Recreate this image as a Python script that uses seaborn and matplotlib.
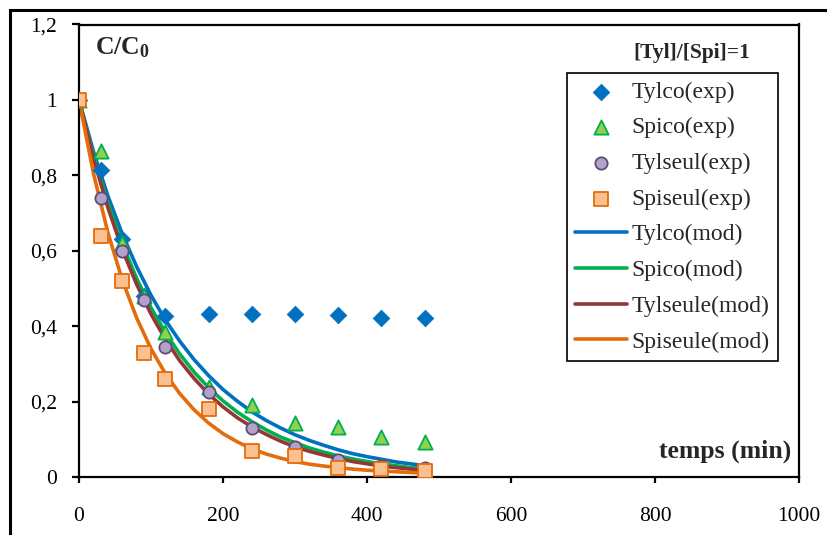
import matplotlib
matplotlib.use("Agg")
import matplotlib.pyplot as plt
from matplotlib.patches import Rectangle
import seaborn as sns
import pandas as pd

# Measured concentrations (C/C0) at sampling times
t_exp = [0, 30, 60, 90, 120, 180, 240, 300, 360, 420, 480]
tylco_exp = [1.0, 0.813, 0.63, 0.48, 0.426, 0.432, 0.432, 0.432, 0.429, 0.421, 0.422]
spico_exp = [1.0, 0.865, 0.62, 0.48, 0.385, 0.24, 0.19, 0.143, 0.132, 0.105, 0.092]
tylseul_exp = [1.0, 0.74, 0.60, 0.47, 0.345, 0.225, 0.13, 0.08, 0.045, 0.03, 0.025]
spiseul_exp = [1.0, 0.64, 0.52, 0.33, 0.26, 0.18, 0.07, 0.055, 0.025, 0.02, 0.015]

# Model curves (C/C0)
t_mod = [0, 20, 40, 60, 80, 100, 120, 140, 160, 180, 200, 220, 240,
         260, 280, 300, 320, 340, 360, 380, 400, 420, 440, 460, 480]
tylco_mod = [1.0, 0.864, 0.746, 0.645, 0.558, 0.482, 0.416, 0.360, 0.311, 0.269,
             0.232, 0.201, 0.173, 0.150, 0.130, 0.112, 0.097, 0.084, 0.072, 0.062,
             0.054, 0.047, 0.040, 0.035, 0.030]
spico_mod = [1.0, 0.852, 0.726, 0.619, 0.527, 0.449, 0.383, 0.326, 0.278, 0.237,
             0.202, 0.172, 0.147, 0.125, 0.106, 0.091, 0.077, 0.066, 0.056, 0.048,
             0.041, 0.035, 0.030, 0.025, 0.022]
tylseule_mod = [1.0, 0.845, 0.715, 0.604, 0.511, 0.432, 0.365, 0.308, 0.261, 0.220,
                0.186, 0.157, 0.133, 0.113, 0.095, 0.080, 0.068, 0.058, 0.049, 0.041,
                0.035, 0.029, 0.025, 0.021, 0.018]
spiseule_mod = [1.0, 0.806, 0.649, 0.523, 0.422, 0.340, 0.274, 0.221, 0.178, 0.143,
                0.115, 0.093, 0.075, 0.061, 0.050, 0.041, 0.034, 0.029, 0.025, 0.021,
                0.018, 0.016, 0.014, 0.012, 0.010]

x_ticks = [0, 200, 400, 600, 800, 1000]
y_ticks = [0, 0.2, 0.4, 0.6, 0.8, 1.0, 1.2]
y_tick_labels = ["0", "0,2", "0,4", "0,6", "0,8", "1", "1,2"]

exp_series = [
    ("Tylco(exp)", tylco_exp, dict(marker="D", s=72, color="#0070C0", edgecolor="#0070C0", linewidth=0.5)),
    ("Spico(exp)", spico_exp, dict(marker="^", s=105, color="#92D050", edgecolor="#00B050", linewidth=1.3)),
    ("Tylseul(exp)", tylseul_exp, dict(marker="o", s=78, color="#B3A2C7", edgecolor="#604A7B", linewidth=1.3)),
    ("Spiseul(exp)", spiseul_exp, dict(marker="s", s=92, color="#FAC090", edgecolor="#E46C0A", linewidth=1.3)),
]
mod_series = [
    ("Tylco(mod)", tylco_mod, "#0070C0"),
    ("Spico(mod)", spico_mod, "#00B050"),
    ("Tylseule(mod)", tylseule_mod, "#953735"),
    ("Spiseule(mod)", spiseule_mod, "#E46C0A"),
]

sns.set_theme(style="white")
plt.rcParams["font.family"] = ["Liberation Serif", "DejaVu Serif"]
plt.rcParams["mathtext.fontset"] = "custom"
plt.rcParams["mathtext.rm"] = "Liberation Serif"
plt.rcParams["mathtext.bf"] = "Liberation Serif:bold"

fig = plt.figure(figsize=(8.27, 5.35), dpi=100)
ax = fig.add_axes([79 / 827, 1 - 477 / 535, 720 / 827, 452.5 / 535])

for name, vals, color in mod_series:
    df = pd.DataFrame({"t": t_mod, "c": vals})
    sns.lineplot(data=df, x="t", y="c", ax=ax, color=color, linewidth=2.6,
                 label=name, zorder=2, legend=False)
line_handles = ax.lines[:]

scatter_handles = []
for name, vals, style in exp_series:
    df = pd.DataFrame({"t": t_exp, "c": vals})
    sns.scatterplot(data=df, x="t", y="c", ax=ax, label=name, zorder=3,
                    legend=False, **style)
    scatter_handles.append(ax.collections[-1])

ax.set_xlim(0, 1000)
ax.set_ylim(0, 1.2)
ax.set_xticks(x_ticks)
ax.set_xticklabels([str(v) for v in x_ticks])
ax.set_yticks(y_ticks)
ax.set_yticklabels(y_tick_labels)
ax.set_xlabel("")
ax.set_ylabel("")

for sp in ax.spines.values():
    sp.set_color("black")
    sp.set_linewidth(1.6)

ax.tick_params(axis="x", direction="out", length=4.5, width=1.6, pad=17,
               labelsize=15.5, colors="black", bottom=True)
ax.tick_params(axis="y", direction="out", length=5, width=1.6, pad=11,
               labelsize=15.5, colors="black", left=True)

ax.text(0.022, 0.933, r"$\mathbf{C/C_0}$", transform=ax.transAxes,
        fontsize=18.5, ha="left", va="baseline")
ax.text(0.932, 0.926, "[Tyl]/[Spi]=1", transform=ax.transAxes,
        fontsize=15.5, fontweight="bold", ha="right", va="baseline")
ax.text(0.989, 0.044, "temps (min)", transform=ax.transAxes,
        fontsize=18.5, fontweight="bold", ha="right", va="baseline")

leg = ax.legend(handles=scatter_handles + line_handles,
                labels=[s[0] for s in exp_series] + [m[0] for m in mod_series],
                loc="upper right", bbox_to_anchor=(0.971, 0.893),
                borderaxespad=0, fontsize=17, frameon=True, fancybox=False,
                edgecolor="black", framealpha=1, labelspacing=0.6,
                handlelength=2.2, handletextpad=0.2, borderpad=0.35,
                scatterpoints=1)
leg.get_frame().set_linewidth(1.2)

# outer chart frame
fig.patches.append(Rectangle((10 / 827, -0.2), 2.0, 1.2 - 10 / 535,
                             transform=fig.transFigure, fill=False,
                             edgecolor="black", linewidth=2.2, zorder=0))

fig.savefig("out.png", dpi=100, facecolor="white")
